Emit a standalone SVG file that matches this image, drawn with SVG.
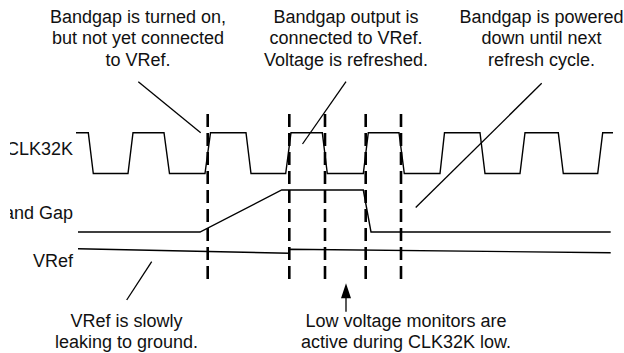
<svg xmlns="http://www.w3.org/2000/svg" width="624" height="353" viewBox="0 0 624 353">
<defs>
<style>
text{font-family:"Liberation Sans",Arial,sans-serif;font-size:18px;fill:#111}
.c{text-anchor:middle}
.r{text-anchor:end}
.w{fill:none;stroke:#000;stroke-width:1.4;stroke-linejoin:miter}
.d{fill:none;stroke:#000;stroke-width:2.6;stroke-dasharray:13 6}
.l{stroke:#000;stroke-width:1.3;fill:none}
</style>
<clipPath id="clipL"><rect x="10" y="0" width="614" height="353"/></clipPath>
</defs>
<rect width="624" height="353" fill="#fff"/>
<g id="signal-labels" clip-path="url(#clipL)">
<text class="r" x="73" y="155">CLK32K</text>
<text class="r" x="73" y="219">Band Gap</text>
<text class="r" x="73" y="267">VRef</text>
</g>
<g id="waveforms">
<path id="clk32k" class="w" d="M76,132.7 H88.3 L93.3,173.5 H128 L133,132.7 H164 L169.5,173.5 H205 L210.5,132.7 H246 L251,173.5 H285.7 L291,132.7 H322.3 L327.3,173.5 H363.3 L368.3,132.7 H399 L404.3,173.5 H440 L444.5,132.7 H480 L485,173.5 H520 L525,132.7 H558.3 L563.3,173.5 H597.7 L602.7,132.7 H613"/>
<path id="bandgap" class="w" d="M78,232 H200 L281.7,190 H363.3 L371,232 H610.7"/>
<path id="vref" class="w" d="M78,248.7 L289.3,253.3 V249.3 L610.7,252.7"/>
</g>
<g id="markers">
<line class="d" x1="207.7" y1="114" x2="207.7" y2="279"/>
<line class="d" x1="289.3" y1="114" x2="289.3" y2="279"/>
<line class="d" x1="325" y1="114" x2="325" y2="279"/>
<line class="d" x1="365.7" y1="114" x2="365.7" y2="279"/>
<line class="d" x1="401" y1="114" x2="401" y2="279"/>
</g>
<g id="connectors">
<line class="l" x1="138.3" y1="81.7" x2="200.7" y2="132.7"/>
<line class="l" x1="346" y1="81.7" x2="302.5" y2="144"/>
<line class="l" x1="541.7" y1="83.3" x2="415.7" y2="207.5"/>
<line class="l" x1="151.7" y1="261.7" x2="126.7" y2="300"/>
<line class="l" x1="346" y1="311.7" x2="346" y2="296"/>
<polygon points="346,283.3 341,298.3 351,298.3" fill="#000"/>
</g>
<g id="note-turned-on">
<text class="c" x="138" y="22.5">Bandgap is turned on,</text>
<text class="c" x="138" y="44">but not yet connected</text>
<text class="c" x="138" y="65.5">to VRef.</text>
</g>
<g id="note-connected">
<text class="c" x="346" y="22.5">Bandgap output is</text>
<text class="c" x="346" y="44">connected to VRef.</text>
<text class="c" x="346" y="65.5">Voltage is refreshed.</text>
</g>
<g id="note-powered-down">
<text class="c" x="541.5" y="22.5">Bandgap is powered</text>
<text class="c" x="541.5" y="44">down until next</text>
<text class="c" x="541.5" y="65.5">refresh cycle.</text>
</g>
<g id="note-leaking">
<text class="c" x="126.5" y="327">VRef is slowly</text>
<text class="c" x="126.5" y="348">leaking to ground.</text>
</g>
<g id="note-monitors">
<text class="c" x="406" y="327">Low voltage monitors are</text>
<text class="c" x="406" y="348">active during CLK32K low.</text>
</g>
</svg>
